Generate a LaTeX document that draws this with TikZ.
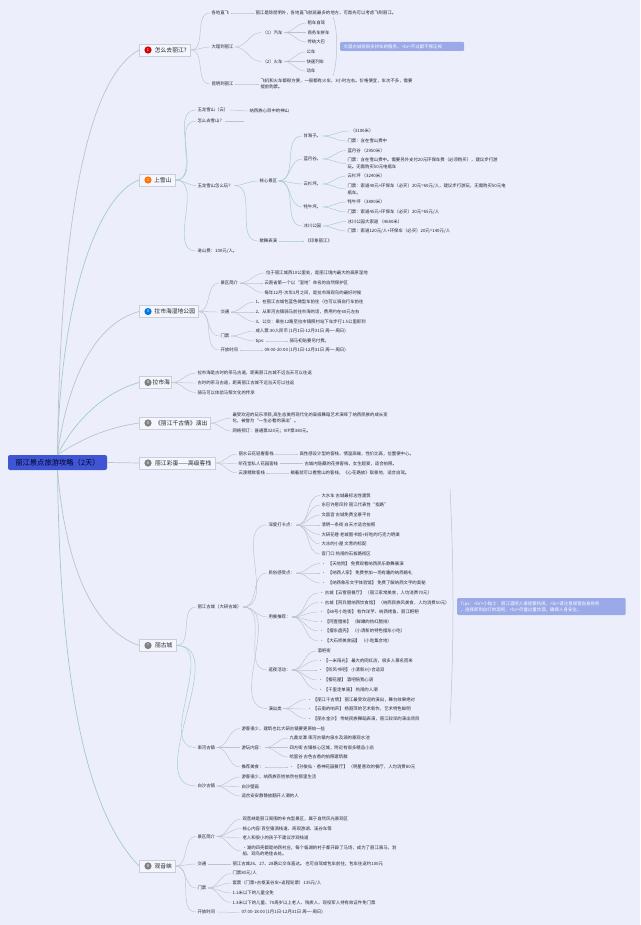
\documentclass[tikz,border=0pt]{standalone}
\usepackage{fontspec}
\setmainfont{Noto Sans CJK SC}
\usetikzlibrary{calc}
\definecolor{bgc}{HTML}{ECEFFB}
\definecolor{rootc}{HTML}{3F55D3}
\definecolor{tipc}{HTML}{9AA9E8}
\definecolor{linegray}{HTML}{BAC3CF}
\definecolor{lineteal}{HTML}{A2CBC8}
\definecolor{inkc}{HTML}{24262D}
\tikzset{
  txt/.style={anchor=west,inner sep=0pt,outer sep=1.5pt,align=left,text=inkc,font=\fontsize{4.4}{6.6}\selectfont},
  rootbox/.style={fill=rootc,rounded corners=2pt,minimum width=99,minimum height=15,inner sep=0pt,text=black!85!blue,font=\fontsize{7.3}{9}\selectfont},
  topic/.style={anchor=west,draw=linegray!80,fill=bgc!60!white,line width=.5pt,inner sep=0pt,minimum height=12,text=inkc,font=\fontsize{5.8}{7}\selectfont},
  ico/.style={circle,inner sep=0pt,minimum size=7.2,text=white,font=\fontsize{4}{4}\selectfont},
  tipbox/.style={anchor=west,fill=tipc,rounded corners=1.2pt,inner xsep=3.5pt,inner ysep=0pt,align=left,text=white,font=\fontsize{4.45}{6}\selectfont},
  lkg/.style={draw=linegray,line width=.45pt},
  lkt/.style={draw=lineteal,line width=.45pt},
  mainlk/.style={line width=.7pt},
  bracel/.style={draw=linegray,line width=.5pt}
}
\begin{document}
\begin{tikzpicture}[x=1pt,y=-1pt]
\fill[bgc] (0,0) rectangle (640,925);
\useasboundingbox (0,0) rectangle (640,925);

% root and topics
\node[rootbox] (root) at (57.5,462.5) {丽江景点旅游攻略（2天）};
\node[topic,minimum width=51] (n1) at (139,50) {\hspace*{12pt}怎么去丽江?};
\node[topic,minimum width=36] (n2) at (139,180) {\hspace*{12pt}上雪山\hspace*{1pt}};
\node[topic,minimum width=59] (n3) at (139,311.5) {\hspace*{12pt}拉市海湿地公园};
\node[topic,minimum width=32] (n4) at (139,382.5) {\hspace*{12pt}拉市海};
\node[topic,minimum width=71] (n5) at (139,423) {\hspace*{13pt}《丽江千古情》演出};
\node[topic,minimum width=76] (n6) at (139,463) {\hspace*{12pt}丽江彩蛋——高级客栈};
\node[topic,minimum width=37] (n7) at (139,645.5) {\hspace*{12pt}丽古城};
\node[topic,minimum width=36] (n8) at (139,866) {\hspace*{12pt}观音峡};
\node[ico,fill=red!85!black] (i1) at ([xshift=9]n1.west) {1};
\node[ico,fill=orange!90!red] (i2) at ([xshift=9]n2.west) {2};
\node[ico,fill=blue!45!cyan!85!black] (i3) at ([xshift=9]n3.west) {3};
\node[ico,fill=gray] (i4) at ([xshift=9]n4.west) {4};
\node[ico,fill=gray] (i5) at ([xshift=9]n5.west) {5};
\node[ico,fill=gray] (i6) at ([xshift=9]n6.west) {6};
\node[ico,fill=gray] (i7) at ([xshift=9]n7.west) {7};
\node[ico,fill=gray] (i8) at ([xshift=9]n8.west) {8};

% 1
\node[txt] (a1) at (210,13) {各地直飞};
\node[txt] (a1t) at (254,13) {丽江是除昆明外，各地直飞航班最多的地方，可首先可以考虑飞到丽江。};
\node[txt] (a2) at (210,47) {大理到丽江};
\node[txt] (a21) at (261,32.5) {（1）汽车};
\node[txt] (a211) at (306,23) {租车自驾};
\node[txt] (a212) at (306,32.5) {商务车拼车};
\node[txt] (a213) at (306,42) {传统大巴};
\node[txt] (a22) at (261,61.5) {（2）火车};
\node[txt] (a221) at (305,52) {公车};
\node[txt] (a222) at (305,61.5) {快速列车};
\node[txt] (a223) at (305,71) {动车};
\node[txt] (a3) at (210,84) {昆明到丽江};
\node[txt] (a3t) at (259,84) {飞机和火车都很方便，一般都有火车，3小时左右。价格便宜，车次不多，需要\\提前购票。};
\node[tipbox,text width=117,minimum height=9] (tip1) at (340,46.5) {大理古城有很多拼车的服务，<br>不过都不够正规};
\coordinate (br1a) at (333,17);
\coordinate (br1b) at (333,76);

% 2
\node[txt] (b1) at (196,110) {玉龙雪山（云）};
\node[txt] (b1t) at (248,111) {纳西族心目中的神山};
\node[txt] (b2) at (196,121) {怎么去雪山？};
\coordinate (b2e) at (244,121);
\node[txt] (b3) at (196,185.5) {玉龙雪山怎么玩？};
\node[txt] (b31) at (258,181) {核心景区};
\node[txt] (b32) at (258,241) {歌舞表演};
\node[txt] (b32t) at (304,241) {《印象丽江》};
\node[txt] (b4) at (196,251) {进山费：100元/人。};
\node[txt] (c1) at (302,136) {甘海子。};
\node[txt] (c11) at (349,131) {（3100米）};
\node[txt] (c12) at (346,141) {门票：含在雪山费中};
\node[txt] (c2) at (302,159) {蓝月谷。};
\node[txt] (c21) at (346,150.5) {蓝月谷 （2950米）};
\node[txt] (c22) at (346,163.5) {门票：含在雪山费中。需要另外支付20元环保车费（必须购买），建议步行游\\玩。无需购买50元电瓶车};
\node[txt] (c3) at (302,184) {云杉坪。};
\node[txt] (c31) at (346,176) {云杉坪 （3240米）};
\node[txt] (c32) at (346,189) {门票：索道40元+环保车（必买）20元=60元/人，建议步行游玩，无需购买50元电\\瓶车。};
\node[txt] (c4) at (302,207) {牦牛坪。};
\node[txt] (c41) at (346,202) {牦牛坪 （3800米）};
\node[txt] (c42) at (346,212) {门票：索道45元+环保车（必买）20元=65元/人};
\node[txt] (c5) at (302,226) {冰川公园};
\node[txt] (c51) at (346,221.5) {冰川公园大索道 （4680米）};
\node[txt] (c52) at (346,231) {门票：索道120元/人+环保车（必买）20元=140元/人};

% 3
\node[txt] (d1) at (219,283) {景区简介};
\node[txt] (d11) at (264.5,273) {位于丽江城西10公里处，是丽江境内最大的高原湿地};
\node[txt] (d12) at (263,283) {云南省第一个以“湿地”命名的自然保护区};
\node[txt] (d13) at (263,292.5) {每年12月-次年3月之间，是拉市海观鸟的最好时候};
\node[txt] (d2) at (219,312) {交通};
\node[txt] (d21) at (254,302) {1、在丽江古城包蓝色微型车前往（也可以骑自行车前往};
\node[txt] (d22) at (254,312) {2、从束河古镇骑马前往市海的话，费用约在60元左右};
\node[txt] (d23) at (254,321.5) {3、公交：乘坐12路至拉市镇照村站下车步行1.5公里即到};
\node[txt] (d3) at (219,336) {门票};
\node[txt] (d31) at (254,331) {成人票:30人民币 (1月1日-12月31日 周一-周日)};
\node[txt] (d32) at (254,341) {tips:};
\node[txt] (d32t) at (288,341) {骑马初贴要另付费。};
\node[txt] (d4) at (219,350) {开放时间};
\node[txt] (d4t) at (263,350) {09:00-20:00 (1月1日-12月31日 周一-周日)};

% 4
\node[txt] (e1) at (196,373) {拉市海是古时的茶马古道，距离丽江古城不远当天可以往返};
\node[txt] (e2) at (196,383) {古时的茶马古道，距离丽江古城不远当天可以往返};
\node[txt] (e3) at (196,392.5) {骑马可以体验马帮文化的传承};

% 5
\node[txt] (f1) at (231,418) {最受欢迎的玩乐项目,高生态美用现代化的高级舞蹈艺术演绎了纳西民族的成长变\\化，被誉为“一生必看的演出”。};
\node[txt] (f2) at (231,431) {网络预订：普通票320元；VIP票380元。};

% 6
\node[txt] (g1) at (237,454) {丽水云花轻奢客栈};
\node[txt] (g1t) at (298,454) {高性感设计型的客栈，情温高端，性价比高，位置便中心。};
\node[txt] (g2) at (237,463.5) {听花堂私人花园客栈};
\node[txt] (g2t) at (303,463.5) {古城内隐藏的花拼客栈，女生超爱，适合拍照。};
\node[txt] (g3) at (237,473) {云渡精致客栈};
\node[txt] (g3t) at (289,473) {躺着就可以看雪山的客栈，《心花路放》取景地，适合自驾。};

% 7
\node[txt] (h1) at (196,607) {丽江古城（大研古城）};
\node[txt] (h11) at (267,525) {深度打卡点：};
\node[txt] (h111) at (320,495.5) {大水车 古城最标志性建筑};
\node[txt] (h112) at (320,505) {东巴许愿风铃 丽江代表性“指路”};
\node[txt] (h113) at (320,515) {文昌宫 古城免费全景平台};
\node[txt] (h114) at (320,525) {清明一条街 白天才适合拍照};
\node[txt] (h115) at (320,534.5) {大研花巷 老城图书馆+好吃的巧克力明渠};
\node[txt] (h116) at (320,544) {大冰的小屋 文青的标配};
\node[txt] (h117) at (320,554) {官门口 热闹的石板路街区};
\node[txt] (h12) at (267,573) {民俗感受点：};
\node[txt] (h121) at (320,563.5) {•\ \ 【天地院】 免费观看纳西民乐歌舞展演};
\node[txt] (h122) at (320,573) {•\ \ 【纳西人家】 免费参加一场有趣的纳西婚礼};
\node[txt] (h123) at (320,583) {•\ \ 【纳西象形文字体验馆】 免费了解纳西文字的奥秘};
\node[txt] (h13) at (267,617) {用餐推荐：};
\node[txt] (h131) at (318,593) {• 古城【云雪丽餐厅】 （丽江家常美食，人均消费70元）};
\node[txt] (h132) at (318,602.5) {• 古城【阿兵腊纳西饮食馆】 （纳西民族风美食，人均消费50元）};
\node[txt] (h133) at (318,612) {• 【88号小吃街】 有炸洋芋、纳西烤鱼、丽江粑粑};
\node[txt] (h134) at (318,621.5) {• 【阿壹腊排】 （鲜嫩的热红腊排）};
\node[txt] (h135) at (318,631) {• 【摆东盘壳】 （小清新的特色摆东小吃）};
\node[txt] (h136) at (318,641) {• 【大石桥美食园】 （小吃集合地）};
\node[txt] (h14) at (267,670) {逛夜活动：};
\node[txt] (h141) at (316,651) {酒吧街};
\node[txt] (h142) at (317,660.5) {• 【一米阳光】 最大的网红店，很多人慕名而来};
\node[txt] (h143) at (317,670) {• 【听风书吧】 小清新3小合适双};
\node[txt] (h144) at (317,680) {• 【樱花屋】 酒吧陪我心语};
\node[txt] (h145) at (317,689.5) {• 【千里走单骑】 热闹的人潮};
\node[txt] (h15) at (267,708.5) {演出类};
\node[txt] (h151) at (306,699.5) {• 【丽江千古情】 丽江最受欢迎的演出，舞台效果绝对};
\node[txt] (h152) at (306,709) {• 【云南的响声】 杨丽萍的艺术新作，艺术特色鲜明};
\node[txt] (h153) at (306,718.5) {• 【丽水金沙】 传统民族舞蹈表演，丽江较早的演出项目};
\node[txt] (h2) at (196,747.5) {束河古镇};
\node[txt] (h21) at (240,728.5) {游客很少，建筑也比大研古镇要更原始一些};
\node[txt] (h22) at (240,747.5) {游玩内容：};
\node[txt] (h221) at (288,738) {九鼎龙潭 束河古镇内泉水及源的景观水池};
\node[txt] (h222) at (288,747.5) {四方街 古镇核心区域，附近有很多精品小店};
\node[txt] (h223) at (288,757) {哈里谷 古色古香的拍照建筑群};
\node[txt] (h23) at (240,767) {推荐美食：};
\node[txt] (h23t) at (288,767) {• 【孙俊仙·香神花园餐厅】 （明星喜欢的餐厅，人均消费80元};
\node[txt] (h3) at (196,786) {白沙古镇};
\node[txt] (h31) at (240,777) {游客很少，纳西族百姓依然在那里生活};
\node[txt] (h32) at (240,786.5) {白沙壁画};
\node[txt] (h33) at (240,796) {适合安安静静放翻开人潮的人};
\node[tipbox,text width=161.5,minimum height=17] (tip2) at (457,606.5) {Tips：<br>小贴士：丽江酒吧人很是繁热闹，<br>请注意保管自身财务\\，选择即到自行的酒吧，<br>尽量过量饮酒，确保人身安全。};
\coordinate (br2a) at (450,489);
\coordinate (br2b) at (450,723);

% 8
\node[txt] (k1) at (196,836.5) {景区简介};
\node[txt] (k11) at (241,819) {观音峡是丽江周围的补充型景区，属于自然风光景观区};
\node[txt] (k12) at (241,828.5) {核心内容:百空猿滴栈道、奇观游湖、溪谷车等};
\node[txt] (k13) at (241,838) {老人和很小的孩子不建议涉观栈道};
\node[txt] (k14) at (241,851) {·湖的四壳都是纳西村庄，每个临湖的村子都开辟了马场，成为了丽江骑马、划\\船、观鸟的绝佳去处。};
\node[txt] (k2) at (196,864) {交通};
\node[txt] (k2t) at (231,864) {丽江古城26、27、28路公交车直达。 也可自驾或包车前往，包车往返约100元};
\node[txt] (k3) at (196,888) {门票};
\node[txt] (k31) at (231,873.5) {门票80元/人};
\node[txt] (k32) at (231,883) {套票（门票+古枢溪谷车+返程轮票）135元/人};
\node[txt] (k33) at (231,893) {1.1米以下的儿童全免};
\node[txt] (k34) at (231,902.5) {1.3米以下的儿童、70周岁以上老人、残疾人、现役军人持有效证件免门票};
\node[txt] (k4) at (196,912) {开放时间};
\node[txt] (k4t) at (240,912.5) {07:00-18:00 (1月1日-12月31日 周一-周日)};

% main branches
\draw[lkg,mainlk] (root.north) .. controls (60,230) and (85,80) .. (n1.west);
\draw[lkt,mainlk] (root.north) .. controls (60,300) and (98,195) .. (n2.west);
\draw[lkg,mainlk] (root.north) .. controls (66,390) and (90,325) .. (n3.west);
\draw[lkt,mainlk] (root.north) .. controls (75,420) and (105,392) .. (n4.west);
\draw[lkg,mainlk] (root.north) .. controls (80,440) and (105,428) .. (n5.west);
\draw[lkg,mainlk] (root.east) -- (n6.west);
\draw[lkg,mainlk] (root.south) .. controls (65,560) and (90,628) .. (n7.west);
\draw[lkt,mainlk] (root.south) .. controls (60,680) and (85,810) .. (n8.west);

% grey sub-branches
\foreach \p/\q in {n1/a1,n1/a2,n1/a3,a1/a1t,a2/a21,a2/a22,a21/a211,a21/a212,a21/a213,a22/a221,a22/a222,a22/a223,a3/a3t,
  n3/d1,n3/d2,n3/d3,n3/d4,d1/d11,d1/d12,d1/d13,d2/d21,d2/d22,d2/d23,d3/d31,d3/d32,d32/d32t,d4/d4t,
  n4/e1,n4/e2,n4/e3,n5/f1,n5/f2,n6/g1,n6/g2,n6/g3,g1/g1t,g2/g2t,g3/g3t,
  n7/h1,h1/h11,h1/h12,h1/h13,h1/h14,h1/h15,
  h11/h111,h11/h112,h11/h113,h11/h114,h11/h115,h11/h116,h11/h117,h12/h121,h12/h122,h12/h123,
  h13/h131,h13/h132,h13/h133,h13/h134,h13/h135,h13/h136,h14/h141,h14/h142,h14/h143,h14/h144,h14/h145,h15/h151,h15/h152,h15/h153,
  h2/h21,h2/h22,h2/h23,h22/h221,h22/h222,h22/h223,h23/h23t,h3/h31,h3/h32,h3/h33,
  n8/k1,n8/k2,n8/k3,n8/k4,k1/k11,k1/k12,k1/k13,k1/k14,k2/k2t,k3/k31,k3/k32,k3/k33,k3/k34,k4/k4t}
  {\draw[lkg] (\p) to[out=0,in=180] (\q);}

% teal sub-branches
\foreach \p/\q in {n2/b1,n2/b2,n2/b3,n2/b4,b1/b1t,b3/b31,b3/b32,b32/b32t,b31/c1,b31/c2,b31/c3,b31/c4,b31/c5,
  c1/c11,c1/c12,c2/c21,c2/c22,c3/c31,c3/c32,c4/c41,c4/c42,c5/c51,c5/c52,n7/h2,n7/h3}
  {\draw[lkt] (\p) to[out=0,in=180] (\q);}
\draw[lkg] (b2) -- (b2e);

% summary braces
\draw[bracel] (br1a) .. controls (338,30) and (338,60) .. (br1b);
\draw[bracel] (br2a) .. controls (454,570) and (454,640) .. (br2b);
\end{tikzpicture}
\end{document}
